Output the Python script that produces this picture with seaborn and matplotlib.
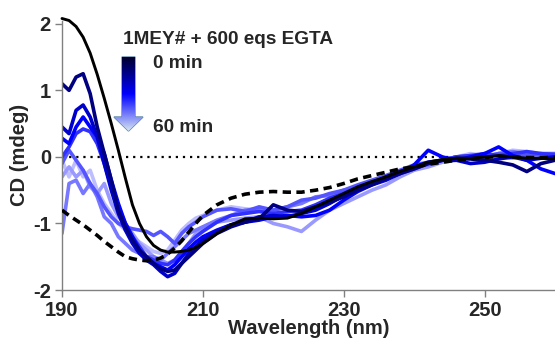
import matplotlib
matplotlib.use("Agg")
import numpy as np
import pandas as pd
import matplotlib.pyplot as plt
import seaborn as sns
from matplotlib.patches import Polygon
from matplotlib.colors import LinearSegmentedColormap

# ---------------- data ----------------
wavelength = list(range(190, 211)) + list(range(212, 261, 2))

ref_solid = [2.08, 2.05, 1.96, 1.80, 1.56, 1.24, 0.88, 0.50, 0.10, -0.32, -0.72,
             -1.00, -1.20, -1.33, -1.40, -1.43, -1.43, -1.42, -1.40, -1.36, -1.30,
             -1.15, -1.02, -0.93, -0.92, -0.93, -0.92, -0.85, -0.75, -0.65, -0.55,
             -0.45, -0.37, -0.30, -0.22, -0.15, -0.08, -0.04, -0.02, -0.02, 0.00,
             0.02, 0.00, -0.02, -0.02, -0.03]
ref_dashed = [-0.80, -0.88, -0.95, -1.02, -1.10, -1.18, -1.27, -1.35, -1.43, -1.50, -1.53,
              -1.55, -1.56, -1.55, -1.52, -1.46, -1.37, -1.26, -1.13, -1.00, -0.88,
              -0.72, -0.62, -0.56, -0.53, -0.52, -0.53, -0.53, -0.50, -0.46, -0.40,
              -0.33, -0.28, -0.23, -0.18, -0.15, -0.11, -0.08, -0.05, -0.03, -0.01,
              0.01, 0.00, -0.01, -0.01, -0.01]

t1 = [1.10, 1.00, 1.20, 1.25, 0.95, 0.45, 0.05, -0.35, -0.80, -1.05, -1.25,
      -1.40, -1.50, -1.60, -1.68, -1.72, -1.70, -1.60, -1.50, -1.40, -1.30,
      -1.15, -1.05, -0.98, -0.93, -0.72, -0.80, -0.82, -0.75, -0.68, -0.60,
      -0.50, -0.42, -0.33, -0.25, -0.18, -0.10, -0.05, -0.02, -0.03, -0.05,
      -0.08, -0.12, -0.22, -0.10, -0.05]
t2 = [0.45, 0.35, 0.70, 0.78, 0.60, 0.30, -0.10, -0.50, -0.85, -1.10, -1.30,
      -1.45, -1.55, -1.62, -1.72, -1.80, -1.75, -1.60, -1.45, -1.35, -1.25,
      -1.12, -1.02, -0.98, -0.90, -0.88, -0.90, -0.85, -0.80, -0.70, -0.58,
      -0.50, -0.40, -0.30, -0.22, -0.15, -0.08, -0.05, -0.05, -0.10, -0.08,
      -0.03, 0.00, -0.05, -0.02, 0.00]
t3 = [0.28, 0.20, 0.45, 0.60, 0.45, 0.30, 0.05, -0.35, -0.70, -1.00, -1.20,
      -1.40, -1.55, -1.60, -1.65, -1.70, -1.62, -1.50, -1.38, -1.28, -1.20,
      -1.10, -1.02, -0.98, -0.95, -0.90, -0.88, -0.90, -0.88, -0.80, -0.65,
      -0.52, -0.42, -0.35, -0.25, -0.12, 0.10, 0.00, -0.05, 0.00, 0.05,
      0.15, 0.02, -0.05, -0.18, -0.25]
t4 = [0.00, 0.15, 0.35, 0.42, 0.38, 0.20, -0.10, -0.45, -0.75, -1.00, -1.20,
      -1.35, -1.50, -1.55, -1.60, -1.62, -1.55, -1.42, -1.30, -1.20, -1.12,
      -0.98, -0.88, -0.85, -0.82, -0.85, -0.82, -0.80, -0.72, -0.62, -0.55,
      -0.45, -0.38, -0.32, -0.25, -0.18, -0.10, -0.05, 0.00, 0.02, 0.05,
      0.02, 0.05, 0.08, 0.05, 0.03]
t5 = [-0.10, 0.10, -0.05, -0.20, -0.40, -0.55, -0.75, -0.90, -1.00, -1.05, -1.08,
      -1.10, -1.12, -1.18, -1.12, -1.20, -1.30, -1.15, -1.05, -0.98, -0.90,
      -0.80, -0.78, -0.82, -0.75, -0.80, -0.75, -0.65, -0.62, -0.55, -0.50,
      -0.42, -0.35, -0.28, -0.20, -0.12, -0.08, -0.05, 0.00, 0.02, 0.00,
      0.05, 0.05, 0.02, 0.05, 0.05]
t6 = [-1.15, -0.40, -0.35, -0.55, -0.40, -0.60, -0.90, -1.00, -1.20, -1.30, -1.40,
      -1.45, -1.50, -1.50, -1.55, -1.45, -1.35, -1.25, -1.15, -1.10, -1.05,
      -0.95, -0.88, -0.80, -0.78, -0.80, -0.75, -0.70, -0.60, -0.58, -0.50,
      -0.45, -0.38, -0.30, -0.22, -0.15, -0.12, -0.05, 0.00, -0.02, 0.00,
      0.05, 0.08, 0.05, 0.03, 0.02]
t7 = [-0.30, -0.15, -0.30, -0.20, -0.45, -0.55, -0.40, -0.70, -0.90, -1.00, -1.15,
      -1.30, -1.40, -1.50, -1.55, -1.60, -1.55, -1.45, -1.30, -1.15, -1.08,
      -0.98, -0.95, -0.92, -0.90, -1.00, -1.05, -1.12, -0.95, -0.80, -0.70,
      -0.60, -0.50, -0.42, -0.30, -0.20, -0.15, -0.08, -0.05, -0.03, 0.00,
      0.00, -0.02, 0.00, 0.02, 0.02]
t8 = [-0.05, -0.30, -0.05, -0.30, -0.20, -0.50, -0.70, -0.85, -1.00, -1.10, -1.20,
      -1.28, -1.35, -1.42, -1.45, -1.40, -1.25, -1.10, -1.00, -0.92, -0.88,
      -0.80, -0.75, -0.78, -0.80, -0.82, -0.88, -0.85, -0.75, -0.65, -0.55,
      -0.45, -0.38, -0.30, -0.25, -0.18, -0.10, -0.05, 0.00, 0.05, 0.02,
      0.05, 0.10, 0.08, 0.05, 0.03]

time_series = [t1, t2, t3, t4, t5, t6, t7, t8]
time_colors = ["#000080", "#0000CC", "#0000FF", "#3030FF",
               "#5555FF", "#7777FF", "#9999FF", "#BDBDFF"]

title_text = "1MEY# + 600 eqs EGTA"
start_label = "0 min"
end_label = "60 min"
x_ticks = [190, 210, 230, 250]
y_ticks = [-2, -1, 0, 1, 2]

# ---------------- figure ----------------
sns.set_style("white")
plt.rcParams["font.family"] = ["Liberation Sans", "DejaVu Sans"]
plt.rcParams["font.weight"] = "bold"

W, H = 555, 344
fig = plt.figure(figsize=(W / 100, H / 100), dpi=100)
ax = fig.add_axes([62 / W, 1 - 290 / H, 1 - 62 / W, (290 - 20.5) / H])

ax.plot([190, 260], [0, 0], color="black", lw=1.6, ls=(0, (1, 2.2)), zorder=1)

for vals, col in reversed(list(zip(time_series, time_colors))):
    sns.lineplot(x=wavelength, y=vals, color=col, lw=2.6, ax=ax, zorder=2)
sns.lineplot(x=wavelength, y=ref_solid, color="black", lw=2.1, ax=ax, zorder=3)
ax.lines[-1].set_clip_on(False)
sns.lineplot(x=wavelength, y=ref_dashed, color="black", lw=2.6, ax=ax, zorder=3)
ax.lines[-1].set_dashes([2.3, 1.5])
for ln in ax.lines:
    ln.set_solid_joinstyle("round")
    ln.set_solid_capstyle("round")

ax.set_xlim(190, 260)
ax.set_ylim(-2, 2.05)
ax.set_xticks(x_ticks)
ax.set_yticks(y_ticks)
ax.set_xticklabels([str(v) for v in x_ticks], fontsize=14.5, fontweight="bold")
ax.set_yticklabels([str(v) for v in y_ticks], fontsize=14.5, fontweight="bold")
ax.tick_params(axis="both", direction="out", length=5, width=1, color="#808080",
               pad=3, left=True, bottom=True)
for s in ["top", "right"]:
    ax.spines[s].set_visible(False)
for s in ["left", "bottom"]:
    ax.spines[s].set_color("#808080")
    ax.spines[s].set_linewidth(1)
ax.set_xlabel("Wavelength (nm)", fontsize=14.5, fontweight="bold", labelpad=-1)
ax.set_ylabel("CD (mdeg)", fontsize=14.5, fontweight="bold", labelpad=3)

# ---------------- legend annotation ----------------
def fx(px):
    return px / W

def fy(py):
    return 1 - py / H

fig.text(fx(123), fy(40), title_text, fontsize=13.7, fontweight="bold", va="center", ha="left")
fig.text(fx(153), fy(63), start_label, fontsize=13.7, fontweight="bold", va="center", ha="left")
fig.text(fx(153), fy(127), end_label, fontsize=13.7, fontweight="bold", va="center", ha="left")

aax = fig.add_axes([0, 0, 1, 1], zorder=5)
aax.set_xlim(0, W)
aax.set_ylim(H, 0)
aax.axis("off")
arrow_pts = [(122, 57), (135, 57), (135, 117), (143, 117), (128.5, 131), (114, 117), (122, 117)]
poly = Polygon(arrow_pts, closed=True, facecolor="none", edgecolor="#5B87A8", lw=1.0)
aax.add_patch(poly)
cmap = LinearSegmentedColormap.from_list("arr", ["#00002E", "#0000FF", "#D6E4F2"])
grad = np.linspace(0, 1, 256).reshape(-1, 1)
im = aax.imshow(grad, cmap=cmap, extent=[113, 144, 131, 57], aspect="auto", zorder=4)
im.set_clip_path(poly)
aax.set_xlim(0, W)
aax.set_ylim(H, 0)

fig.savefig("out.png", dpi=100)
